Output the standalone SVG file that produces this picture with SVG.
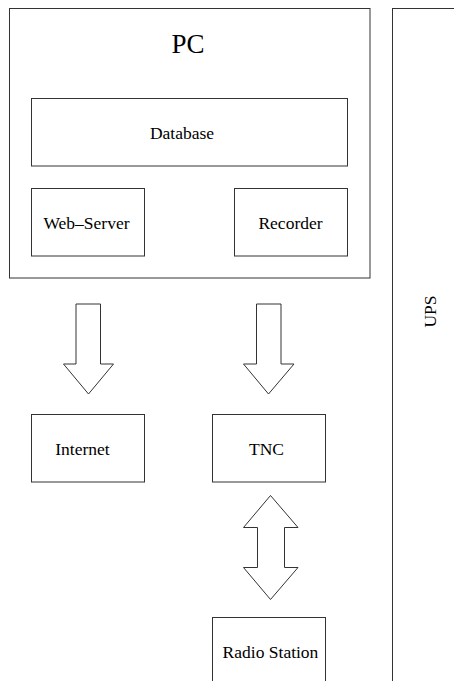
<svg xmlns="http://www.w3.org/2000/svg" width="454" height="681" viewBox="0 0 454 681">
<style>
.box{fill:none;stroke:#333;stroke-width:1}
.arr{fill:#fff;stroke:#333;stroke-width:1;stroke-linejoin:miter}
.t{font-family:"Liberation Serif","Times New Roman",serif;font-size:17.5px;fill:#000;text-anchor:middle}
</style>
<rect width="454" height="681" fill="#fff"/>
<g id="ups">
<rect class="box" x="392.5" y="8.5" width="80" height="700"/>
<text class="t" transform="translate(436,311.5) rotate(-90)">UPS</text>
</g>
<g id="pc">
<rect class="box" x="9.5" y="8.5" width="360.5" height="269.5"/>
<text class="t" x="188" y="53" style="font-size:27px">PC</text>
</g>
<g id="database">
<rect class="box" x="31.5" y="98.5" width="316" height="67.5"/>
<text class="t" x="182" y="139">Database</text>
</g>
<g id="webserver">
<rect class="box" x="31.5" y="188.5" width="113" height="67.5"/>
<text class="t" x="86.5" y="229">Web–Server</text>
</g>
<g id="recorder">
<rect class="box" x="234.5" y="188.5" width="113" height="67.5"/>
<text class="t" x="290.5" y="229">Recorder</text>
</g>
<g id="internet">
<rect class="box" x="31.5" y="414.5" width="113" height="67.5"/>
<text class="t" x="82.5" y="455">Internet</text>
</g>
<g id="tnc">
<rect class="box" x="212.5" y="414.5" width="113" height="67.5"/>
<text class="t" x="266.5" y="455">TNC</text>
</g>
<g id="radio">
<rect class="box" x="212.5" y="617.5" width="113" height="100"/>
<text class="t" x="270.5" y="658">Radio Station</text>
</g>
<g id="connectors">
<polygon class="arr" points="76,304 100.5,304 100.5,364 113.5,364 88.5,394 63.5,364 76,364"/>
<polygon class="arr" points="256.5,304 281,304 281,364 294,364 268.5,394 243.5,364 256.5,364"/>
<polygon class="arr" points="270.5,495.5 298,527.5 284.5,527.5 284.5,567.5 298,567.5 270.5,599.5 243.5,567.5 257.5,567.5 257.5,527.5 243.5,527.5"/>
</g>
</svg>
